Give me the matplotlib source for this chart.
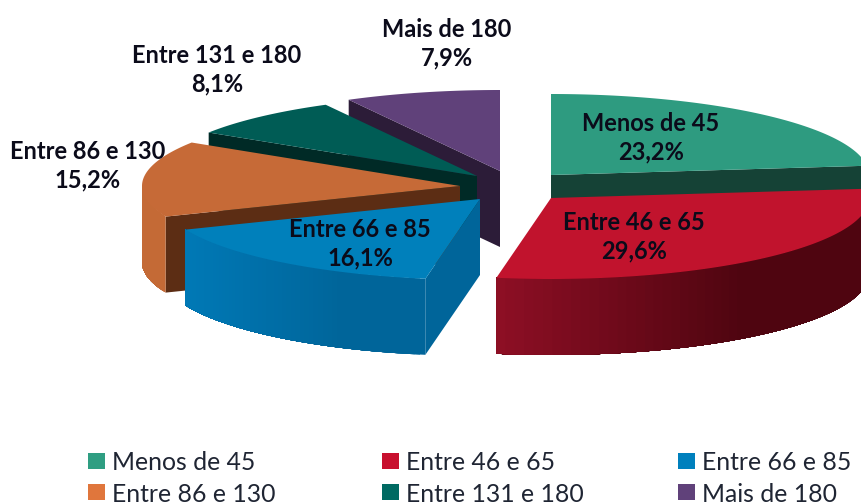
"""
Exploded 3D-look pie chart, drawn in pixel coordinates.
"""
import numpy as np
import matplotlib
matplotlib.use("Agg")
import matplotlib.pyplot as plt
from matplotlib.colors import to_rgb
from matplotlib.patches import Polygon, Rectangle

categories = ["Menos de 45", "Entre 46 e 65", "Entre 66 e 85",
              "Entre 86 e 130", "Entre 131 e 180", "Mais de 180"]
values = [23.2, 29.6, 16.1, 15.2, 8.1, 7.9]

legend_colors = ["#2f9e82", "#c8102e", "#0080bd", "#e0763c", "#006a62", "#60417a"]
top_colors = ["#2e9b80", "#c1132d", "#0080bb", "#c66a37", "#005c55", "#60417a"]
cut_colors = ["#154236", "#5a0611", "#00659a", "#5c2d14", "#002a26", "#2c1c38"]
rim_left = ["#1f6f5b", "#8f0f25", "#0079b6", "#c46a36", "#005c55", "#60417a"]
rim_right = ["#1f6f5b", "#4f0510", "#00659a", "#c46a36", "#005c55", "#60417a"]

# slice apex on the top surface, in pixels (the explode of each slice)
apex = [(551, 175), (551, 198), (480, 199), (460, 186), (477, 176), (500, 171)]
label_pos = [(651, 138), (634, 237), (360, 244), (88, 166), (217, 70), (447, 44)]
legend_x = [88, 382, 678]
legend_y = [463, 494]

RX, RY, DEPTH = 318, 81, 76
DRAW_ORDER = [5, 4, 3, 2, 0, 1]

plt.rcParams["font.family"] = ["Lato", "DejaVu Sans"]

fig = plt.figure(figsize=(8.62, 5.04), dpi=100)
ax = fig.add_axes([0, 0, 1, 1])
ax.set_xlim(0, 862)
ax.set_ylim(504, 0)
ax.axis("off")

# angles run clockwise from the top of the pie
edges = np.concatenate([[0], np.cumsum(values)]) / sum(values) * 360


def rim_point(i, deg):
    rad = np.radians(deg)
    return apex[i][0] + RX * np.sin(rad), apex[i][1] - RY * np.cos(rad)


def cut_face(i, deg):
    x, y = rim_point(i, deg)
    ax_, ay = apex[i]
    return [(ax_, ay), (x, y), (x, y + DEPTH), (ax_, ay + DEPTH)]


for i in DRAW_ORDER:
    a, b = edges[i], edges[i + 1]

    # flat cut faces, only the ones turned to the viewer
    if np.sin(np.radians(a)) < 0:
        ax.add_patch(Polygon(cut_face(i, a), facecolor=cut_colors[i], edgecolor="none"))
    if np.sin(np.radians(b)) > 0:
        ax.add_patch(Polygon(cut_face(i, b), facecolor=cut_colors[i], edgecolor="none"))

    # outer rim, front half only, shaded left to right
    lo, hi = max(a, 90), min(b, 270)
    if lo < hi:
        degs = np.linspace(lo, hi, 60)
        pts = [rim_point(i, d) for d in degs]
        xs = np.array([p[0] for p in pts])
        t = np.clip((xs - xs.min()) / (xs.max() - xs.min()) * 1.5, 0, 1)
        c0, c1 = np.array(to_rgb(rim_left[i])), np.array(to_rgb(rim_right[i]))
        # each strip reaches under the next one so no seams show; paint from the far end
        for k in range(len(pts) - 1):
            part = pts[k:]
            poly = part + [(x, y + DEPTH) for x, y in reversed(part)]
            ax.add_patch(Polygon(poly, facecolor=c0 + (c1 - c0) * t[k], edgecolor="none"))

    # top surface
    degs = np.linspace(a, b, 80)
    top = [apex[i]] + [rim_point(i, d) for d in degs]
    ax.add_patch(Polygon(top, facecolor=top_colors[i], edgecolor="none"))

for name, val, (x, y) in zip(categories, values, label_pos):
    ax.text(x, y, f"{name}\n{val:.1f}%".replace(".", ","), ha="center", va="center",
            fontsize=17, fontweight="bold", color="#0b0b1a", linespacing=1.27)

for k, name in enumerate(categories):
    col, row = k % 3, k // 3
    x, y = legend_x[col], legend_y[row]
    ax.add_patch(Rectangle((x, y - 10), 17, 16, facecolor=legend_colors[k], edgecolor="none"))
    ax.text(x + 24, y, name, ha="left", va="center", fontsize=17.8, color="#1f2533")

fig.savefig("out.png", dpi=100)
plt.close(fig)
